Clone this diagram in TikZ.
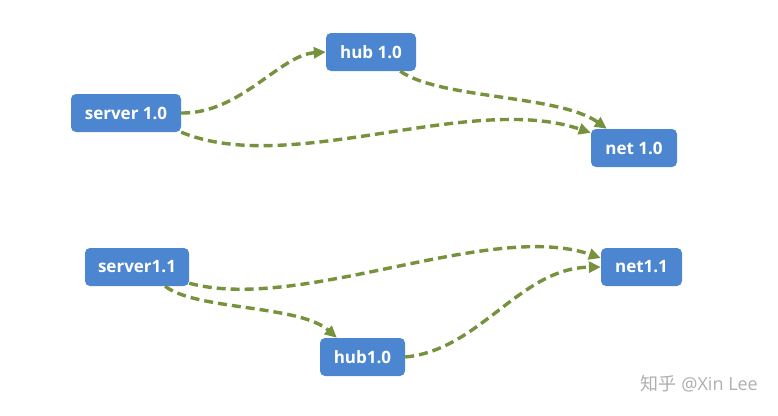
\documentclass[tikz,border=0pt]{standalone}
\usepackage{fontspec}
\setmainfont{Open Sans}
\newfontfamily\cjkfont{Noto Sans CJK SC}
\usetikzlibrary{arrows.meta}
\definecolor{boxblue}{RGB}{76,134,208}
\definecolor{olive}{RGB}{118,146,60}
\definecolor{wmgray}{RGB}{175,175,175}
\tikzset{
  box/.style={draw=none, fill=boxblue, rounded corners=5pt, inner sep=0pt,
    minimum height=38pt, text=white, font=\fontsize{17}{19}\selectfont\bfseries},
  link/.style={draw=olive, line width=3.4pt, dash pattern=on 9pt off 5pt,
    -{Triangle[length=12pt,width=11pt]}}
}
\begin{document}
\begin{tikzpicture}[x=1pt,y=-1pt]
\useasboundingbox (0,0) rectangle (778,415);
\node[box, minimum width=110pt] (s10) at (126,113) {server 1.0};
\node[box, minimum width=90pt]  (h10) at (371,52)  {hub 1.0};
\node[box, minimum width=86pt]  (n10) at (634,148) {net 1.0};
\node[box, minimum width=104pt] (s11) at (137,267) {server1.1};
\node[box, minimum width=85pt]  (h11) at (362.5,357) {hub1.0};
\node[box, minimum width=81pt]  (n11) at (641.5,267) {net1.1};
\node[text=wmgray, font=\fontsize{18}{20}\selectfont, anchor=east, inner sep=0pt] (wm) at (758,384) {{\cjkfont 知乎} @Xin Lee};

\draw[link] (s10.east) .. controls +(59,1) and +(-46,3) .. (h10.west);
\draw[link] ([xshift=-16pt]h10.south east) .. controls +(40,28) and +(-47,-34) .. ([xshift=16pt]n10.north west);
\draw[link] (s10.south east) .. controls +(109,45) and +(-121,-41) .. ([yshift=-4pt]n10.north west);
\draw[link] ([yshift=3pt]s11.south east) .. controls +(111,30) and +(-111,-38) .. ([yshift=9pt]n11.west);
\draw[link] ([xshift=-24pt]s11.south east) .. controls +(30,24) and +(-37,-33) .. ([xshift=17pt]h11.north west);
\draw[link] (h11.east) .. controls +(75,-7) and +(-81,1) .. (n11.west);
\end{tikzpicture}
\end{document}
